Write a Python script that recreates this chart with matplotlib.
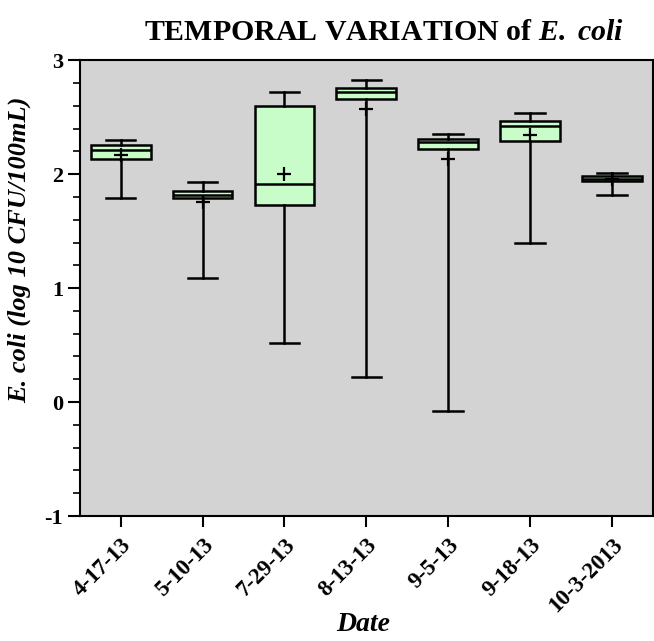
import matplotlib
matplotlib.use("Agg")
from matplotlib import pyplot as plt
from matplotlib.ticker import MultipleLocator

plt.rcParams["font.family"] = "Liberation Serif"
plt.rcParams["axes.unicode_minus"] = False
plt.rcParams["mathtext.fontset"] = "custom"
plt.rcParams["mathtext.bfit"] = "Liberation Serif:bold:italic"
plt.rcParams["mathtext.it"] = "Liberation Serif:italic"
plt.rcParams["mathtext.rm"] = "Liberation Serif"

# Werte (log10 KBE/100 mL)
dates = ["4-17-13", "5-10-13", "7-29-13", "8-13-13", "9-5-13", "9-18-13", "10-3-2013"]
whisker_low = [1.79, 1.09, 0.52, 0.22, -0.08, 1.40, 1.82]
q1 = [2.13, 1.79, 1.73, 2.66, 2.22, 2.29, 1.94]
median = [2.21, 1.82, 1.91, 2.72, 2.28, 2.42, 1.96]
q3 = [2.26, 1.855, 2.60, 2.76, 2.31, 2.47, 1.98]
whisker_high = [2.30, 1.93, 2.72, 2.83, 2.35, 2.54, 2.01]
means = [2.17, 1.76, 2.00, 2.57, 2.13, 2.34, 1.96]

stats = []
for i in range(len(dates)):
    stats.append({"whislo": whisker_low[i], "q1": q1[i], "med": median[i],
                  "q3": q3[i], "whishi": whisker_high[i], "mean": means[i],
                  "fliers": [], "label": dates[i]})

fig = plt.figure(figsize=(6.54, 6.41), dpi=100)
ax = fig.add_axes([0.122, 0.195, 0.876, 0.711])
ax.set_facecolor("#d3d3d3")

lw = 1.8
ax.bxp(stats, positions=range(len(dates)), widths=0.73, patch_artist=True,
       showmeans=True, showfliers=False,
       boxprops=dict(facecolor="#c8fcc8", edgecolor="black", linewidth=lw),
       medianprops=dict(color="black", linewidth=lw),
       whiskerprops=dict(color="black", linewidth=lw),
       capprops=dict(color="black", linewidth=lw),
       capwidths=0.36,
       meanprops=dict(marker="+", markeredgecolor="black", markersize=10,
                      markeredgewidth=1.6))

ax.set_xlim(-0.5, len(dates) - 0.5)
ax.set_ylim(-1, 3)
ax.yaxis.set_major_locator(MultipleLocator(1))
ax.yaxis.set_minor_locator(MultipleLocator(0.2))
ax.tick_params(axis="y", which="major", direction="out", length=9, width=1.5,
               labelsize=16, pad=3)
ax.tick_params(axis="y", which="minor", direction="out", length=5, width=1.2)
ax.tick_params(axis="x", direction="out", length=8, width=1.5, labelsize=16.5,
               pad=5)
for lab in ax.get_yticklabels():
    lab.set_fontweight("bold")
ax.set_xticks(range(len(dates)))
ax.set_xticklabels(dates, rotation=45, ha="right", rotation_mode="anchor",
                   fontweight="bold")
for sp in ax.spines.values():
    sp.set_linewidth(1.5)

ax.set_xlabel("Date", fontsize=20, fontweight="bold", style="italic")
ax.xaxis.set_label_coords(0.495, -0.21)
ax.set_ylabel("E. coli (log 10 CFU/100mL)", fontsize=19, fontweight="bold",
              style="italic")
ax.yaxis.set_label_coords(-0.085, 0.585)
fig.text(0.587, 0.95, r"TEMPORAL VARIATION of $\mathbfit{E.\ coli}$",
         fontsize=21.5, fontweight="bold", ha="center", va="center")

fig.savefig("out.png", dpi=100)
